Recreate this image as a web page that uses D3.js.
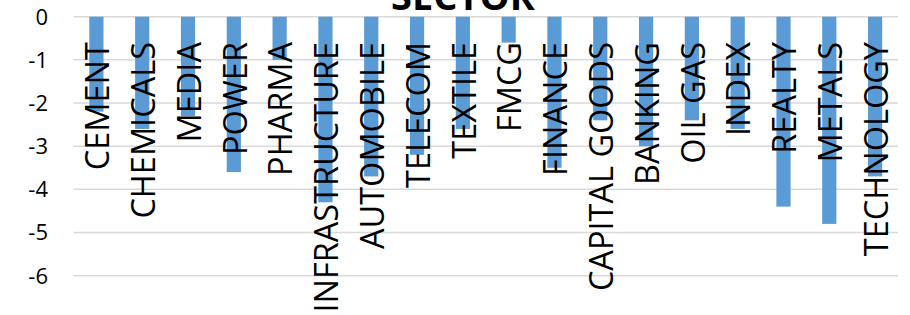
<!DOCTYPE html>
<html>
<head>
<meta charset="utf-8">
<script src="https://cdn.jsdelivr.net/npm/d3@7"></script>
<style>
  body { margin: 0; background: #fff; }
  text { font-family: "Open Sans", sans-serif; }
</style>
</head>
<body>
<div id="chart"></div>
<script>
// Data
var sectors = ['CEMENT', 'CHEMICALS', 'MEDIA', 'POWER', 'PHARMA', 'INFRASTRUCTURE',
  'AUTOMOBILE', 'TELECOM', 'TEXTILE', 'FMCG', 'FINANCE', 'CAPITAL GOODS',
  'BANKING', 'OIL GAS', 'INDEX', 'REALTY', 'METALS', 'TECHNOLOGY'];
var changes = [-2.2, -2.6, -2.3, -3.6, -1.0, -4.3, -3.7, -3.2, -2.6, -0.6,
  -3.5, -2.4, -3.0, -2.4, -2.6, -4.4, -4.8, -3.7];
var y_ticks = [0, -1, -2, -3, -4, -5, -6];
var chart_title = 'SECTOR';

var chart_width = 910;
var chart_height = 315;

var svg = d3.select('#chart')
  .append('svg')
  .attr('width', chart_width)
  .attr('height', chart_height);

var x = d3.scaleBand()
  .domain(sectors)
  .range([73.5, 898])
  .paddingInner(0.69)
  .paddingOuter(0.345);

var y = d3.scaleLinear()
  .domain([-6, 0])
  .range([275.7, 16.7]);

// gridlines
svg.append('g')
  .selectAll('line')
  .data(y_ticks)
  .enter()
  .append('line')
  .attr('x1', 73.5)
  .attr('x2', 898)
  .attr('y1', function(d){ return y(d); })
  .attr('y2', function(d){ return y(d); })
  .attr('stroke', '#d9d9d9')
  .attr('stroke-width', 1.5);

// y tick labels
svg.append('g')
  .selectAll('text')
  .data(y_ticks)
  .enter()
  .append('text')
  .attr('x', 48)
  .attr('y', function(d){ return y(d); })
  .attr('dy', '0.36em')
  .attr('text-anchor', 'end')
  .attr('font-size', 22)
  .attr('fill', '#000')
  .text(function(d){ return d; });

// bars
svg.append('g')
  .selectAll('rect')
  .data(changes)
  .enter()
  .append('rect')
  .attr('x', function(d, i){ return x(sectors[i]); })
  .attr('width', x.bandwidth())
  .attr('y', y(0))
  .attr('height', function(d){ return y(d) - y(0); })
  .attr('fill', '#5b9bd5');

// category labels (drawn over the bars)
svg.append('g')
  .selectAll('text')
  .data(sectors)
  .enter()
  .append('text')
  .attr('transform', function(d){
    return 'translate(' + (x(d) + x.bandwidth() / 2 + 1) + ',42) rotate(-90)';
  })
  .attr('dy', '0.36em')
  .attr('text-anchor', 'end')
  .attr('font-size', 32.5)
  .attr('fill', '#000')
  .text(function(d){ return d; });

// title, cut off by the top edge as in the original
svg.append('text')
  .attr('x', 463)
  .attr('y', 10)
  .attr('text-anchor', 'middle')
  .attr('font-size', 38)
  .attr('font-weight', 'bold')
  .attr('fill', '#000')
  .text(chart_title);
</script>
</body>
</html>
